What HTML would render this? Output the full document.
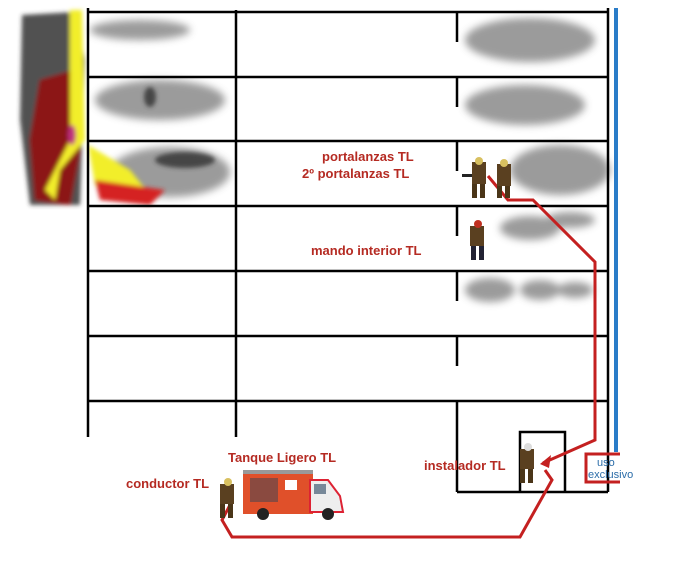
<!DOCTYPE html>
<html><head><meta charset="utf-8"><style>
body{margin:0;background:#fff;width:698px;height:561px;overflow:hidden}
svg{display:block}
text{font-family:"Liberation Sans",sans-serif;font-weight:bold;font-size:13px;fill:#b52a22}
</style></head><body>
<svg width="698" height="561" viewBox="0 0 698 561">
<defs>
<filter id="b" x="-20%" y="-50%" width="140%" height="200%"><feGaussianBlur stdDeviation="4"/></filter>
<filter id="b2"><feGaussianBlur stdDeviation="2"/></filter>
</defs>
<g fill="#8a8a8a" filter="url(#b)" opacity="0.85">
<ellipse cx="140" cy="30" rx="50" ry="10"/>
<ellipse cx="530" cy="40" rx="65" ry="22"/>
<ellipse cx="160" cy="100" rx="65" ry="20"/>
<ellipse cx="525" cy="105" rx="60" ry="20"/>
<ellipse cx="170" cy="172" rx="60" ry="25"/>
<ellipse cx="560" cy="170" rx="50" ry="25"/>
<ellipse cx="530" cy="228" rx="30" ry="12"/>
<ellipse cx="570" cy="220" rx="25" ry="8"/>
<ellipse cx="490" cy="290" rx="25" ry="12"/>
<ellipse cx="540" cy="290" rx="20" ry="10"/>
<ellipse cx="575" cy="290" rx="18" ry="8"/>
</g>
<g fill="#333" filter="url(#b2)" opacity="0.8">
<ellipse cx="185" cy="160" rx="30" ry="8"/>
<ellipse cx="150" cy="97" rx="6" ry="10"/>
</g>
<g filter="url(#b2)">
<path d="M22 15 L75 12 L85 60 L80 205 L30 205 L20 120 Z" fill="#333" opacity="0.85"/>
<path d="M40 80 L75 70 L80 150 L70 205 L35 200 L30 140 Z" fill="#8c1616"/>
<path d="M70 10 L82 10 L85 140 L60 170 L55 200 L45 190 L70 140 Z" fill="#f2ee2a"/>
<path d="M88 145 L130 170 L150 195 L120 200 L95 185 Z" fill="#f2ee2a"/>
<path d="M95 180 L165 190 L150 205 L100 200 Z" fill="#d52020"/>
<ellipse cx="72" cy="135" rx="4" ry="10" fill="#c03080"/>
</g>
<g stroke="#000" stroke-width="2.5" fill="none">
<line x1="88" y1="12" x2="608" y2="12"/>
<line x1="88" y1="77" x2="608" y2="77"/>
<line x1="88" y1="141" x2="608" y2="141"/>
<line x1="88" y1="206" x2="608" y2="206"/>
<line x1="88" y1="271" x2="608" y2="271"/>
<line x1="88" y1="336" x2="608" y2="336"/>
<line x1="88" y1="401" x2="608" y2="401"/>
<line x1="88" y1="8" x2="88" y2="437"/>
<line x1="608" y1="8" x2="608" y2="492"/>
<line x1="236" y1="10" x2="236" y2="437"/>
<line x1="457" y1="12" x2="457" y2="42"/>
<line x1="457" y1="77" x2="457" y2="107"/>
<line x1="457" y1="141" x2="457" y2="171"/>
<line x1="457" y1="206" x2="457" y2="236"/>
<line x1="457" y1="271" x2="457" y2="301"/>
<line x1="457" y1="336" x2="457" y2="366"/>
<line x1="457" y1="401" x2="457" y2="492"/>
<line x1="457" y1="492" x2="608" y2="492"/>
<polyline points="520,492 520,432 565,432 565,492"/>
</g>
<line x1="616" y1="8" x2="616" y2="452" stroke="#2a7cc8" stroke-width="4"/>
<g stroke="#c42020" stroke-width="3" fill="none">
<polyline points="488,176 508,200 533,200 595,262 595,440 543,463"/>
<path d="M620 454 L586 454 L586 482 L620 482"/>
<polyline points="545,470 552,480 520,537 232,537 222,520 230,505"/>
</g>
<path d="M540 464 L551 455 L549 468 Z" fill="#c42020"/>
<text x="597" y="466" style="font-weight:normal;font-size:11px;fill:#2a6ca8">uso</text>
<text x="588" y="478" style="font-weight:normal;font-size:11px;fill:#2a6ca8">exclusivo</text>
<g>
<g transform="translate(470,158)"><rect x="2" y="4" width="14" height="22" fill="#5a4020"/><circle cx="9" cy="3" r="4" fill="#d8c060"/><rect x="2" y="26" width="5" height="14" fill="#4a3518"/><rect x="10" y="26" width="5" height="14" fill="#4a3518"/><rect x="-8" y="16" width="10" height="3" fill="#222"/></g>
<g transform="translate(495,160)"><rect x="2" y="4" width="14" height="22" fill="#5a4020"/><circle cx="9" cy="3" r="4" fill="#d8c060"/><rect x="2" y="26" width="5" height="12" fill="#4a3518"/><rect x="10" y="26" width="5" height="12" fill="#4a3518"/></g>
<g transform="translate(468,220)"><rect x="2" y="6" width="14" height="20" fill="#5a4020"/><circle cx="10" cy="4" r="4" fill="#c03020"/><rect x="3" y="26" width="5" height="14" fill="#223"/><rect x="11" y="26" width="5" height="14" fill="#223"/></g>
<g transform="translate(518,443)"><rect x="2" y="6" width="14" height="20" fill="#5a4020"/><circle cx="10" cy="4" r="4" fill="#ddd"/><rect x="2" y="26" width="5" height="14" fill="#4a3518"/><rect x="10" y="26" width="5" height="14" fill="#4a3518"/></g>
<g transform="translate(218,478)"><rect x="2" y="6" width="14" height="20" fill="#5a4020"/><circle cx="10" cy="4" r="4" fill="#d8c060"/><rect x="2" y="26" width="5" height="14" fill="#4a3518"/><rect x="10" y="26" width="5" height="14" fill="#4a3518"/></g>
</g>
<g>
<rect x="243" y="472" width="70" height="42" fill="#e0502a"/>
<rect x="243" y="470" width="70" height="4" fill="#999"/>
<rect x="250" y="478" width="28" height="24" fill="#8a4a40"/>
<rect x="285" y="480" width="12" height="10" fill="#fff"/>
<path d="M310 480 L328 480 L340 496 L343 512 L310 512 Z" fill="#eee" stroke="#d23" stroke-width="2"/>
<rect x="314" y="484" width="12" height="10" fill="#789"/>
<circle cx="263" cy="514" r="6" fill="#222"/><circle cx="328" cy="514" r="6" fill="#222"/>
</g>
<text x="322" y="161">portalanzas TL</text>
<text x="302" y="178">2º portalanzas TL</text>
<text x="311" y="255">mando interior TL</text>
<text x="228" y="462">Tanque Ligero TL</text>
<text x="126" y="488">conductor TL</text>
<text x="424" y="470">instalador TL</text>
</svg>
</body></html>
